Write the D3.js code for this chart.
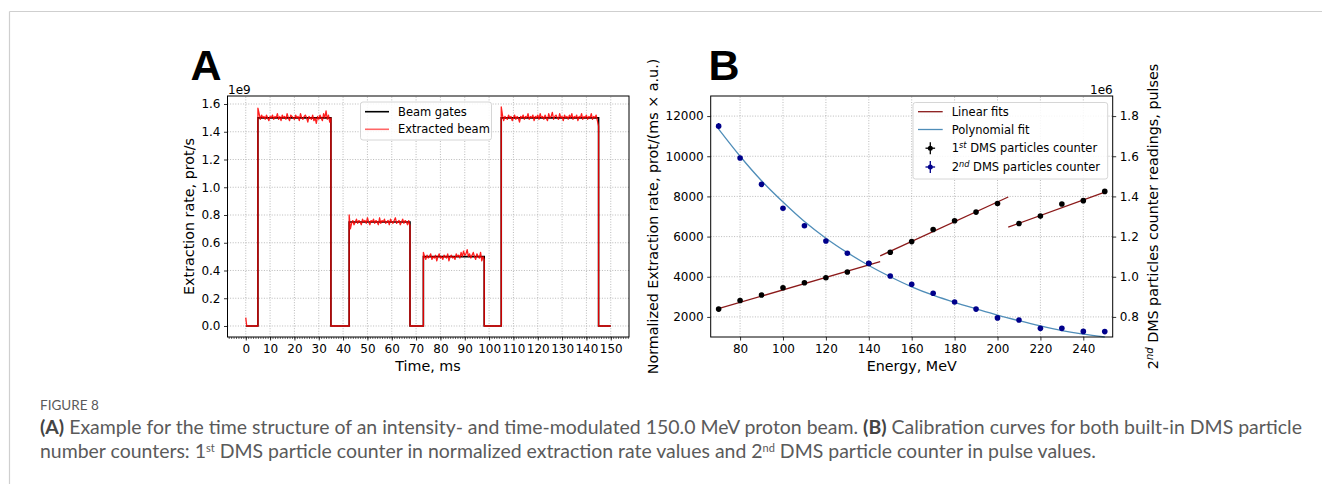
<!DOCTYPE html>
<html>
<head>
<meta charset="utf-8">
<script src="https://cdn.jsdelivr.net/npm/d3@7"></script>
<style>
  body { margin: 0; background: #fff; }
  svg { display: block; }
  .plot text { font-family: 'DejaVu Sans', sans-serif; fill: #000; }
  .caption text { font-family: 'Lato', 'Noto Sans', sans-serif; fill: #5a5a5a; }
</style>
</head>
<body>
<div id="figure"></div>
<script>
// ---------- panel A data ----------
const aTimeTicks = [0, 10, 20, 30, 40, 50, 60, 70, 80, 90, 100, 110, 120, 130, 140, 150];
const aRateTicks = [0, 0.2, 0.4, 0.6, 0.8, 1.0, 1.2, 1.4, 1.6];

// beam gates: level between gateTimes[i] and gateTimes[i+1] (x1e9 prot/s)
const gateTimes = [0, 5, 35, 42.5, 67.5, 73, 98, 105, 145, 150];
const gateLevels = [0, 1.5, 0, 0.75, 0, 0.5, 0, 1.5, 0];

// extracted beam in 0.5 ms steps per gate
const beamStart = [5, 42.5, 73, 105];
const beamEnd = [35, 67.5, 98, 145];
const beam1 = [1.57, 1.53, 1.49, 1.52, 1.50, 1.51, 1.49, 1.52, 1.50, 1.48, 1.51, 1.50, 1.52, 1.49, 1.51, 1.50,
  1.53, 1.49, 1.51, 1.48, 1.52, 1.50, 1.51, 1.49, 1.53, 1.50, 1.48, 1.52, 1.51, 1.50, 1.49, 1.52, 1.50, 1.51,
  1.48, 1.53, 1.50, 1.49, 1.51, 1.52, 1.50, 1.47, 1.51, 1.50, 1.49, 1.52, 1.48, 1.50, 1.46, 1.51, 1.49, 1.52,
  1.50, 1.48, 1.53, 1.50, 1.55, 1.49, 1.52, 1.47, 1.50];
const beam2 = [0.80, 0.70, 0.74, 0.76, 0.73, 0.75, 0.77, 0.74, 0.76, 0.75, 0.73, 0.77, 0.75, 0.76, 0.74, 0.78,
  0.75, 0.73, 0.76, 0.75, 0.77, 0.74, 0.76, 0.75, 0.73, 0.78, 0.74, 0.76, 0.75, 0.77, 0.74, 0.75, 0.76, 0.73,
  0.77, 0.75, 0.74, 0.76, 0.78, 0.74, 0.75, 0.76, 0.73, 0.75, 0.77, 0.74, 0.76, 0.75, 0.73, 0.76, 0.72];
const beam3 = [0.53, 0.50, 0.48, 0.51, 0.49, 0.50, 0.52, 0.48, 0.50, 0.49, 0.51, 0.47, 0.50, 0.52, 0.49, 0.50,
  0.48, 0.51, 0.50, 0.49, 0.52, 0.47, 0.50, 0.51, 0.49, 0.50, 0.48, 0.52, 0.50, 0.51, 0.49, 0.53, 0.50, 0.54,
  0.51, 0.52, 0.55, 0.50, 0.52, 0.49, 0.51, 0.53, 0.50, 0.48, 0.52, 0.50, 0.49, 0.53, 0.47, 0.50, 0.48];
const beam4 = [1.58, 1.52, 1.48, 1.51, 1.50, 1.49, 1.52, 1.50, 1.51, 1.48, 1.50, 1.52, 1.49, 1.51, 1.50, 1.47,
  1.51, 1.50, 1.52, 1.49, 1.51, 1.50, 1.53, 1.49, 1.51, 1.50, 1.52, 1.48, 1.51, 1.50, 1.52, 1.49, 1.53, 1.50,
  1.51, 1.49, 1.52, 1.50, 1.48, 1.53, 1.50, 1.51, 1.54, 1.49, 1.51, 1.52, 1.50, 1.49, 1.53, 1.50, 1.51, 1.48,
  1.52, 1.50, 1.51, 1.49, 1.52, 1.50, 1.53, 1.49, 1.51, 1.50, 1.52, 1.48, 1.51, 1.50, 1.53, 1.49, 1.51, 1.50,
  1.52, 1.49, 1.51, 1.50, 1.53, 1.49, 1.51, 1.50, 1.52, 1.48, 1.44];
const beamBlocks = [beam1, beam2, beam3, beam4];
const beamZeroSpike = 0.06; // small red blip at t = 0

// ---------- panel B data ----------
const bEnergyTicks = [80, 100, 120, 140, 160, 180, 200, 220, 240];
const bRateTicks = [2000, 4000, 6000, 8000, 10000, 12000];
const bPulseTicks = [0.8, 1.0, 1.2, 1.4, 1.6, 1.8];

const energies = [70, 80, 90, 100, 110, 120, 130, 140, 150, 160, 170, 180, 190, 200, 210, 220, 230, 240, 250];
// 1st DMS counter, normalized extraction rate
const counter1 = [2390, 2820, 3090, 3450, 3700, 3950, 4235, 4660, 5220, 5750, 6350, 6790, 7220, 7650,
  6650, 7020, 7620, 7790, 8250];
const counter1Err = [60, 60, 60, 70, 60, 60, 60, 70, 70, 70, 80, 80, 80, 90, 80, 80, 90, 90, 100];
// 2nd DMS counter, pulses (x1e6)
const counter2 = [1.750, 1.591, 1.460, 1.341, 1.254, 1.178, 1.117, 1.067, 1.004, 0.963, 0.918, 0.874,
  0.839, 0.795, 0.785, 0.743, 0.743, 0.728, 0.727];
const counter2Err = [0.016, 0.007, 0.007, 0.007, 0.006, 0.006, 0.006, 0.006, 0.005, 0.005, 0.005, 0.005,
  0.005, 0.005, 0.005, 0.004, 0.004, 0.004, 0.004];

// linear fits of counter 1 (three energy ranges)
const linFitFrom = [69.5, 145.3, 205];
const linFitTo = [145.3, 205, 251];
const linFitFromVal = [2400, 5035, 6470];
const linFitToVal = [4750, 7970, 8250];

// polynomial fit of counter 2 (x1e6)
const polyEnergy = [70, 80, 90, 100, 110, 120, 130, 140, 150, 160, 170, 180, 190, 200, 210, 220, 230, 240, 250];
const polyValue = [1.735, 1.600, 1.478, 1.372, 1.275, 1.192, 1.120, 1.056, 1.000, 0.950, 0.908, 0.872,
  0.840, 0.809, 0.781, 0.755, 0.732, 0.714, 0.700];

// ---------- figure ----------
const width = 1322,
  height = 484;

const svg = d3
  .select('#figure')
  .append('svg')
  .attr('width', width)
  .attr('height', height);

// page frame
svg.append('line').attr('x1', 9.5).attr('x2', width).attr('y1', 11.5).attr('y2', 11.5)
  .attr('stroke', '#cfcfcf').attr('stroke-width', 1.2);
svg.append('line').attr('x1', 9.5).attr('x2', 9.5).attr('y1', 11.5).attr('y2', height)
  .attr('stroke', '#cfcfcf').attr('stroke-width', 1.2);

const plot = svg.append('g').attr('class', 'plot');

const tickFont = 12,
  labelFont = 14.3,
  legendFont = 11.5;

function grid(g, x, y, xt, yt) {
  const [x0, x1] = x.range();
  const [y0, y1] = y.range();
  g.selectAll('.gx').data(xt).join('line')
    .attr('x1', (d) => x(d)).attr('x2', (d) => x(d)).attr('y1', y0).attr('y2', y1);
  g.selectAll('.gy').data(yt).join('line')
    .attr('x1', x0).attr('x2', x1).attr('y1', (d) => y(d)).attr('y2', (d) => y(d));
  g.selectAll('line')
    .attr('stroke', '#a8a8a8')
    .attr('stroke-width', 0.8)
    .attr('stroke-dasharray', '1,1.6');
}

function styleAxis(g) {
  g.select('.domain').remove();
  g.selectAll('.tick line').attr('stroke', '#000').attr('stroke-width', 0.8);
  g.selectAll('.tick text').attr('font-size', tickFont).attr('font-family', 'DejaVu Sans');
}

function frame(x, y) {
  const [x0, x1] = x.range();
  const [y0, y1] = y.range();
  plot.append('rect')
    .attr('x', x0).attr('y', y1).attr('width', x1 - x0).attr('height', y0 - y1)
    .attr('fill', 'none').attr('stroke', '#000').attr('stroke-width', 1);
}

// ================= Panel A =================
const xA = d3.scaleLinear().domain([-7.5, 157.5]).range([227.5, 629]);
const yA = d3.scaleLinear().domain([-0.0793, 1.6577]).range([337, 96]);

plot.append('g').call((g) => grid(g, xA, yA, aTimeTicks, aRateTicks));

// beam gates as a step line
const gatePts = gateLevels.map((v, i) => [gateTimes[i], v]);
gatePts.push([gateTimes[gateTimes.length - 1], gateLevels[gateLevels.length - 1]]);
const stepLine = d3.line().curve(d3.curveStepAfter).x((d) => xA(d[0])).y((d) => yA(d[1]));
plot.append('path')
  .datum(gatePts)
  .attr('fill', 'none')
  .attr('stroke', '#000')
  .attr('stroke-width', 1.6)
  .attr('d', stepLine);

// extracted beam, zero outside the gates
const beamPts = [[0, beamZeroSpike], [0.4, 0]];
beamBlocks.forEach((vals, b) => {
  const t0 = beamStart[b],
    t1 = beamEnd[b];
  beamPts.push([t0, 0]);
  vals.forEach((v, i) => beamPts.push([t0 + ((t1 - t0) * i) / (vals.length - 1), v]));
  beamPts.push([t1, 0]);
});
beamPts.push([150, 0]);
const beamLine = d3.line().x((d) => xA(d[0])).y((d) => yA(d[1]));
plot.append('path')
  .datum(beamPts)
  .attr('fill', 'none')
  .attr('stroke', '#ff0000')
  .attr('stroke-opacity', 0.88)
  .attr('stroke-width', 1.3)
  .attr('stroke-linejoin', 'round')
  .attr('d', beamLine);

frame(xA, yA);

// axes
plot.append('g')
  .attr('transform', 'translate(0,337)')
  .call(d3.axisBottom(xA).tickValues(d3.range(-7, 158, 1)).tickSize(2).tickFormat(''))
  .call((g) => {
    g.select('.domain').remove();
    g.selectAll('.tick line').attr('stroke', '#000').attr('stroke-width', 0.6);
  });
plot.append('g')
  .attr('transform', 'translate(0,337)')
  .call(d3.axisBottom(xA).tickValues(aTimeTicks).tickSize(3.5).tickPadding(3.5).tickFormat(d3.format('d')))
  .call(styleAxis);
plot.append('g')
  .attr('transform', 'translate(227.5,0)')
  .call(d3.axisLeft(yA).tickValues(aRateTicks).tickSize(3.5).tickPadding(3.5).tickFormat(d3.format('.1f')))
  .call(styleAxis);

plot.append('text').attr('x', 228).attr('y', 93.5).attr('font-size', tickFont).text('1e9');
plot.append('text')
  .attr('x', 428).attr('y', 371).attr('text-anchor', 'middle').attr('font-size', labelFont)
  .text('Time, ms');
plot.append('text')
  .attr('transform', 'translate(194,216.5) rotate(-90)')
  .attr('text-anchor', 'middle').attr('font-size', labelFont)
  .text('Extraction rate, prot/s');

// legend A
const legA = plot.append('g');
legA.append('rect')
  .attr('x', 360.5).attr('y', 102).attr('width', 131).attr('height', 38).attr('rx', 2.5)
  .attr('fill', '#fff').attr('fill-opacity', 0.85).attr('stroke', '#cccccc').attr('stroke-width', 0.8);
[['Beam gates', '#000', 1, 111.7], ['Extracted beam', '#ff0000', 0.6, 129.3]].forEach(([t, c, o, y]) => {
  legA.append('line').attr('x1', 365).attr('x2', 389).attr('y1', y).attr('y2', y)
    .attr('stroke', c).attr('stroke-opacity', o).attr('stroke-width', 1.6);
  legA.append('text').attr('x', 398).attr('y', y + 4).attr('font-size', legendFont).text(t);
});

// panel letter
svg.append('text')
  .attr('x', 190.5).attr('y', 80)
  .attr('font-family', 'Liberation Sans, Arial, sans-serif')
  .attr('font-weight', 'bold').attr('font-size', 43)
  .text('A');

// ================= Panel B =================
const xB = d3.scaleLinear().domain([66.3, 253.7]).range([710.7, 1112.7]);
const yBL = d3.scaleLinear().domain([1000, 13000]).range([337, 96]);
const yBR = d3.scaleLinear().domain([0.7, 1.9]).range([337, 96]);

plot.append('g').call((g) => grid(g, xB, yBL, bEnergyTicks, bRateTicks));

// linear fits
linFitFrom.forEach((e0, i) => {
  plot.append('path')
    .datum([[e0, linFitFromVal[i]], [linFitTo[i], linFitToVal[i]]])
    .attr('fill', 'none')
    .attr('stroke', '#8b1a1a')
    .attr('stroke-width', 1.3)
    .attr('d', d3.line().x((d) => xB(d[0])).y((d) => yBL(d[1])));
});

// polynomial fit
plot.append('path')
  .datum(polyEnergy.map((e, i) => [e, polyValue[i]]))
  .attr('fill', 'none')
  .attr('stroke', '#4f8db8')
  .attr('stroke-width', 1.3)
  .attr('d', d3.line().curve(d3.curveMonotoneX).x((d) => xB(d[0])).y((d) => yBR(d[1])));

// counter points with error bars
function points(vals, errs, y, color) {
  const g = plot.append('g');
  g.selectAll('line').data(energies).join('line')
    .attr('x1', (d) => xB(d)).attr('x2', (d) => xB(d))
    .attr('y1', (d, i) => y(vals[i] - errs[i]))
    .attr('y2', (d, i) => y(vals[i] + errs[i]))
    .attr('stroke', color).attr('stroke-width', 1.2);
  g.selectAll('circle').data(energies).join('circle')
    .attr('cx', (d) => xB(d))
    .attr('cy', (d, i) => y(vals[i]))
    .attr('r', 2.8)
    .attr('fill', color);
}
points(counter1, counter1Err, yBL, '#000');
points(counter2, counter2Err, yBR, '#00008b');

frame(xB, yBL);

plot.append('g')
  .attr('transform', 'translate(0,337)')
  .call(d3.axisBottom(xB).tickValues(bEnergyTicks).tickSize(3.5).tickPadding(3.5).tickFormat(d3.format('d')))
  .call(styleAxis);
plot.append('g')
  .attr('transform', 'translate(710.7,0)')
  .call(d3.axisLeft(yBL).tickValues(bRateTicks).tickSize(3.5).tickPadding(3.5).tickFormat(d3.format('d')))
  .call(styleAxis);
plot.append('g')
  .attr('transform', 'translate(1112.7,0)')
  .call(d3.axisRight(yBR).tickValues(bPulseTicks).tickSize(3.5).tickPadding(3.5).tickFormat(d3.format('.1f')))
  .call(styleAxis);

plot.append('text').attr('x', 1112.7).attr('y', 93.5).attr('text-anchor', 'end')
  .attr('font-size', tickFont).text('1e6');
plot.append('text')
  .attr('x', 911.7).attr('y', 371).attr('text-anchor', 'middle').attr('font-size', labelFont)
  .text('Energy, MeV');
plot.append('text')
  .attr('transform', 'translate(657.5,216.5) rotate(-90)')
  .attr('text-anchor', 'middle').attr('font-size', labelFont)
  .text('Normalized Extraction rate, prot/(ms × a.u.)');
const rLab = plot.append('text')
  .attr('transform', 'translate(1158,216.5) rotate(-90)')
  .attr('text-anchor', 'middle').attr('font-size', labelFont);
rLab.append('tspan').text('2');
rLab.append('tspan').attr('dy', -5).attr('font-size', 10).attr('font-style', 'italic').text('nd');
rLab.append('tspan').attr('dy', 5).text(' DMS particles counter readings, pulses');

// legend B
const legB = plot.append('g');
legB.append('rect')
  .attr('x', 913).attr('y', 102.5).attr('width', 194.7).attr('height', 76.5).attr('rx', 2.5)
  .attr('fill', '#fff').attr('fill-opacity', 0.85).attr('stroke', '#cccccc').attr('stroke-width', 0.8);
[['Linear fits', '#8b1a1a', 111.7], ['Polynomial fit', '#4f8db8', 129.5]].forEach(([t, c, y]) => {
  legB.append('line').attr('x1', 918).attr('x2', 942.7).attr('y1', y).attr('y2', y)
    .attr('stroke', c).attr('stroke-width', 1.3);
  legB.append('text').attr('x', 951.7).attr('y', y + 4).attr('font-size', legendFont).text(t);
});
[['1', 'st', '#000', 148.2], ['2', 'nd', '#00008b', 167]].forEach(([n, s, c, y]) => {
  legB.append('line').attr('x1', 930.3).attr('x2', 930.3).attr('y1', y - 6).attr('y2', y + 6)
    .attr('stroke', c).attr('stroke-width', 1.3);
  legB.append('line').attr('x1', 925.5).attr('x2', 935.1).attr('y1', y).attr('y2', y)
    .attr('stroke', c).attr('stroke-width', 1.3);
  legB.append('circle').attr('cx', 930.3).attr('cy', y).attr('r', 2.5).attr('fill', c);
  const t = legB.append('text').attr('x', 951.7).attr('y', y + 4).attr('font-size', legendFont);
  t.append('tspan').text(n);
  t.append('tspan').attr('dy', -4.5).attr('font-size', 8.2).attr('font-style', 'italic').text(s);
  t.append('tspan').attr('dy', 4.5).text(' DMS particles counter');
});

svg.append('text')
  .attr('x', 708.5).attr('y', 80)
  .attr('font-family', 'Liberation Sans, Arial, sans-serif')
  .attr('font-weight', 'bold').attr('font-size', 43)
  .text('B');

// ---------- caption ----------
const cap = svg.append('g').attr('class', 'caption');
cap.append('text').attr('x', 40).attr('y', 410).attr('font-size', 13.5).attr('fill', '#555')
  .text('FIGURE 8');

const line1 = cap.append('text').attr('x', 40).attr('y', 434).attr('font-size', 16);
line1.append('tspan').attr('font-weight', 'bold').attr('fill', '#444').text('(A)');
line1.append('tspan').text(' Example for the time structure of an intensity- and time-modulated 150.0 MeV proton beam. ');
line1.append('tspan').attr('font-weight', 'bold').attr('fill', '#444').text('(B)');
line1.append('tspan').text(' Calibration curves for both built-in DMS particle');

const line2 = cap.append('text').attr('x', 40).attr('y', 458).attr('font-size', 16);
line2.append('tspan').text('number counters: 1');
line2.append('tspan').attr('dy', -6).attr('font-size', 11).text('st');
line2.append('tspan').attr('dy', 6).text(' DMS particle counter in normalized extraction rate values and 2');
line2.append('tspan').attr('dy', -6).attr('font-size', 11).text('nd');
line2.append('tspan').attr('dy', 6).text(' DMS particle counter in pulse values.');

// fit caption font size to the measured width of the first line
const w1 = line1.node().getComputedTextLength();
const fs = (16 * (1303 - 40)) / w1;
[line1, line2].forEach((l) => l.attr('font-size', fs));
</script>
</body>
</html>
